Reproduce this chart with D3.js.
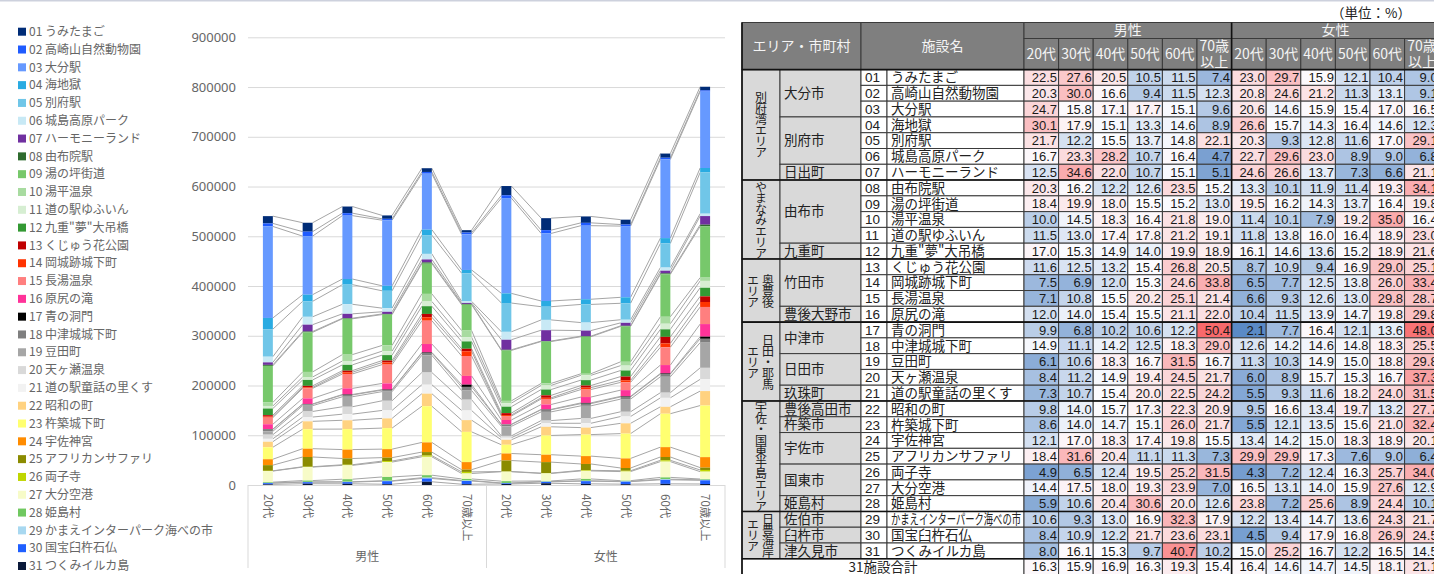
<!DOCTYPE html>
<html lang="ja">
<head>
<meta charset="utf-8">
<script src="https://cdn.jsdelivr.net/npm/d3@7"></script>
<style>
  html, body { margin: 0; padding: 0; background: #fff; }
  svg { display: block; }
</style>
</head>
<body>
<div id="chart"></div>
<script>
// ---- data ----
const genders = ['男性', '女性'];
const ages = ['20代', '30代', '40代', '50代', '60代', '70歳以上'];
const yTicks = [0, 100000, 200000, 300000, 400000, 500000, 600000, 700000, 800000, 900000];

const facilities = [
  'うみたまご', '高崎山自然動物園', '大分駅', '海地獄', '別府駅', '城島高原パーク', 'ハーモニーランド',
  '由布院駅', '湯の坪街道', '湯平温泉', '道の駅ゆふいん', '九重"夢"大吊橋',
  'くじゅう花公園', '岡城跡城下町', '長湯温泉', '原尻の滝',
  '青の洞門', '中津城城下町', '豆田町', '天ヶ瀬温泉', '道の駅童話の里くす',
  '昭和の町', '杵築城下町', '宇佐神宮', 'アフリカンサファリ', '両子寺', '大分空港', '姫島村',
  'かまえインターパーク海べの市', '国宝臼杵石仏', 'つくみイルカ島'
];

const seriesColors = [
  '#002c77', '#1f5bff', '#6699ff', '#29abe2', '#70c6e8', '#c8e9f5', '#7030a0',
  '#2e6b2e', '#77c86b', '#a8dba0', '#d6eed2', '#339933',
  '#c00000', '#ff3300', '#ff7f7f', '#ff3399',
  '#000000', '#7f7f7f', '#a6a6a6', '#d9d9d9', '#f2f2f2',
  '#ffd280', '#ffff70', '#ff8c00', '#8b8b00', '#bfd600', '#f7fbc8', '#70c860',
  '#a8d8f0', '#1f5fff', '#0b1a3a'
];

// visitors per facility: 男性 20代..70歳以上, 女性 20代..70歳以上
const visitors = [
  [14600, 17900, 13300, 6800, 7500, 4800, 18600, 24100, 12900, 9800, 8400, 7300],
  [6100, 9000, 5000, 2800, 3500, 3700, 5600, 6600, 5700, 3100, 3500, 2500],
  [184000, 117700, 127400, 131900, 112500, 71500, 191600, 135800, 147900, 143200, 158100, 153500],
  [22600, 13400, 11300, 10000, 11000, 6700, 19400, 11500, 10400, 12000, 10700, 9000],
  [55300, 31100, 39500, 34900, 37700, 56400, 57900, 26500, 36500, 33100, 48500, 82900],
  [11400, 15800, 19200, 7300, 11200, 3200, 15900, 20700, 16100, 6200, 6300, 4800],
  [5000, 13800, 8800, 4300, 6000, 2000, 20200, 21800, 11200, 6000, 5400, 17300],
  [2000, 1600, 1200, 1300, 2400, 1500, 1300, 1000, 1200, 1100, 1900, 3400],
  [73600, 79600, 72000, 62000, 60800, 52000, 101400, 84200, 74400, 71200, 85300, 103000],
  [7000, 10200, 12800, 11500, 15300, 13300, 4600, 4000, 3200, 7700, 14000, 6600],
  [5200, 5900, 7800, 8000, 9500, 8600, 7100, 8300, 9600, 9800, 11300, 13800],
  [13300, 11900, 11600, 10900, 15500, 14700, 12900, 11700, 10900, 12200, 15100, 17300],
  [2900, 3100, 3300, 3900, 6700, 5100, 3900, 4900, 4200, 7600, 13100, 11300],
  [2100, 1900, 3400, 4300, 6900, 9500, 2000, 2300, 3800, 4100, 7800, 10000],
  [13300, 20200, 29000, 37800, 46900, 40000, 7900, 11200, 15100, 15600, 35800, 34400],
  [9600, 11200, 12300, 12400, 16900, 17600, 8800, 9800, 11800, 12500, 16800, 25300],
  [900, 600, 900, 1000, 1100, 4500, 200, 700, 1500, 1100, 1200, 4300],
  [3700, 2800, 3600, 3100, 4600, 7300, 3800, 4300, 4400, 4400, 5500, 7700],
  [6700, 11700, 20100, 18400, 34700, 18400, 19200, 17500, 25300, 25500, 32000, 50700],
  [8400, 11200, 14900, 19400, 24500, 21700, 3700, 5500, 9700, 9500, 10400, 23100],
  [5800, 8600, 12300, 16000, 18000, 19400, 4100, 7000, 8700, 13700, 18000, 23600],
  [11100, 15800, 17700, 19500, 25200, 23600, 10000, 17400, 14100, 20700, 13900, 29100],
  [24100, 39200, 41200, 42300, 72800, 60800, 17600, 38700, 43200, 49900, 67200, 103700],
  [11900, 16700, 17900, 17100, 19400, 15200, 14100, 14900, 15800, 19200, 19800, 21100],
  [11400, 19600, 12600, 6900, 7000, 4500, 22100, 22100, 12800, 5600, 6700, 4700],
  [500, 700, 1200, 2000, 2500, 3200, 400, 700, 1200, 1600, 2600, 3400],
  [22300, 27100, 27900, 29900, 37000, 10900, 19000, 15100, 16100, 18300, 31700, 14800],
  [1500, 2700, 5100, 7700, 5000, 3200, 3600, 1100, 3800, 1300, 3700, 1500],
  [500, 500, 700, 800, 1600, 900, 600, 700, 700, 700, 1200, 1100],
  [2400, 3100, 3400, 6100, 6600, 6500, 1400, 2800, 5400, 5000, 8100, 7400],
  [1300, 2600, 2400, 1600, 6500, 1600, 2100, 3500, 2300, 1700, 2300, 2000]
];

// table (単位：%)
const shares = [
  [22.5, 27.6, 20.5, 10.5, 11.5, 7.4, 23.0, 29.7, 15.9, 12.1, 10.4, 9.0],
  [20.3, 30.0, 16.6, 9.4, 11.5, 12.3, 20.8, 24.6, 21.2, 11.3, 13.1, 9.1],
  [24.7, 15.8, 17.1, 17.7, 15.1, 9.6, 20.6, 14.6, 15.9, 15.4, 17.0, 16.5],
  [30.1, 17.9, 15.1, 13.3, 14.6, 8.9, 26.6, 15.7, 14.3, 16.4, 14.6, 12.3],
  [21.7, 12.2, 15.5, 13.7, 14.8, 22.1, 20.3, 9.3, 12.8, 11.6, 17.0, 29.1],
  [16.7, 23.3, 28.2, 10.7, 16.4, 4.7, 22.7, 29.6, 23.0, 8.9, 9.0, 6.8],
  [12.5, 34.6, 22.0, 10.7, 15.1, 5.1, 24.6, 26.6, 13.7, 7.3, 6.6, 21.1],
  [20.3, 16.2, 12.2, 12.6, 23.5, 15.2, 13.3, 10.1, 11.9, 11.4, 19.3, 34.1],
  [18.4, 19.9, 18.0, 15.5, 15.2, 13.0, 19.5, 16.2, 14.3, 13.7, 16.4, 19.8],
  [10.0, 14.5, 18.3, 16.4, 21.8, 19.0, 11.4, 10.1, 7.9, 19.2, 35.0, 16.4],
  [11.5, 13.0, 17.4, 17.8, 21.2, 19.1, 11.8, 13.8, 16.0, 16.4, 18.9, 23.0],
  [17.0, 15.3, 14.9, 14.0, 19.9, 18.9, 16.1, 14.6, 13.6, 15.2, 18.9, 21.6],
  [11.6, 12.5, 13.2, 15.4, 26.8, 20.5, 8.7, 10.9, 9.4, 16.9, 29.0, 25.1],
  [7.5, 6.9, 12.0, 15.3, 24.6, 33.8, 6.5, 7.7, 12.5, 13.8, 26.0, 33.4],
  [7.1, 10.8, 15.5, 20.2, 25.1, 21.4, 6.6, 9.3, 12.6, 13.0, 29.8, 28.7],
  [12.0, 14.0, 15.4, 15.5, 21.1, 22.0, 10.4, 11.5, 13.9, 14.7, 19.8, 29.8],
  [9.9, 6.8, 10.2, 10.6, 12.2, 50.4, 2.1, 7.7, 16.4, 12.1, 13.6, 48.0],
  [14.9, 11.1, 14.2, 12.5, 18.3, 29.0, 12.6, 14.2, 14.6, 14.8, 18.3, 25.5],
  [6.1, 10.6, 18.3, 16.7, 31.5, 16.7, 11.3, 10.3, 14.9, 15.0, 18.8, 29.8],
  [8.4, 11.2, 14.9, 19.4, 24.5, 21.7, 6.0, 8.9, 15.7, 15.3, 16.7, 37.3],
  [7.3, 10.7, 15.4, 20.0, 22.5, 24.2, 5.5, 9.3, 11.6, 18.2, 24.0, 31.5],
  [9.8, 14.0, 15.7, 17.3, 22.3, 20.9, 9.5, 16.6, 13.4, 19.7, 13.2, 27.7],
  [8.6, 14.0, 14.7, 15.1, 26.0, 21.7, 5.5, 12.1, 13.5, 15.6, 21.0, 32.4],
  [12.1, 17.0, 18.3, 17.4, 19.8, 15.5, 13.4, 14.2, 15.0, 18.3, 18.9, 20.1],
  [18.4, 31.6, 20.4, 11.1, 11.3, 7.3, 29.9, 29.9, 17.3, 7.6, 9.0, 6.4],
  [4.9, 6.5, 12.4, 19.5, 25.2, 31.5, 4.3, 7.2, 12.4, 16.3, 25.7, 34.0],
  [14.4, 17.5, 18.0, 19.3, 23.9, 7.0, 16.5, 13.1, 14.0, 15.9, 27.6, 12.9],
  [5.9, 10.6, 20.4, 30.6, 20.0, 12.6, 23.8, 7.2, 25.6, 8.9, 24.4, 10.1],
  [10.6, 9.3, 13.0, 16.9, 32.3, 17.9, 12.2, 13.4, 14.7, 13.6, 24.3, 21.7],
  [8.4, 10.9, 12.2, 21.7, 23.6, 23.1, 4.5, 9.4, 17.9, 16.8, 26.9, 24.5],
  [8.0, 16.1, 15.3, 9.7, 40.7, 10.2, 15.0, 25.2, 16.7, 12.2, 16.5, 14.5]
];
const shareTotal = [16.3, 15.9, 16.9, 16.3, 19.3, 15.4, 16.4, 14.6, 14.7, 14.5, 18.1, 21.1];

// エリア (first/last row index), lines are vertical columns from right to left
const areas = [
  { lines: ['別府湾エリア'], from: 0, to: 6 },
  { lines: ['やまなみエリア'], from: 7, to: 11 },
  { lines: ['奥豊後', 'エリア'], from: 12, to: 15 },
  { lines: ['日田・耶馬', 'エリア'], from: 16, to: 20 },
  { lines: ['宇佐・国東半島エリア'], from: 21, to: 27 },
  { lines: ['日豊海岸', 'エリア'], from: 28, to: 30 }
];
const cities = [
  ['大分市', 0, 2], ['別府市', 3, 5], ['日出町', 6, 6], ['由布市', 7, 10], ['九重町', 11, 11],
  ['竹田市', 12, 14], ['豊後大野市', 15, 15], ['中津市', 16, 17], ['日田市', 18, 19], ['玖珠町', 20, 20],
  ['豊後高田市', 21, 21], ['杵築市', 22, 22], ['宇佐市', 23, 24], ['国東市', 25, 26], ['姫島村', 27, 27],
  ['佐伯市', 28, 28], ['臼杵市', 29, 29], ['津久見市', 30, 30]
];

// ---- drawing ----
const W = 1434, H = 574;
const JP = '"Noto Sans CJK JP", "Noto Sans", sans-serif';
const NUM = '"Liberation Sans", Arial, sans-serif';
const categories = genders.flatMap(g => ages.map(a => ({ gender: g, age: a })));
const pad2 = i => String(i + 1).padStart(2, '0');

const svg = d3.select('#chart').append('svg')
  .attr('width', W).attr('height', H)
  .attr('viewBox', [0, 0, W, H])
  .style('font-family', JP);

svg.append('rect').attr('width', W).attr('height', H).attr('fill', '#fff');
svg.append('rect').attr('width', W).attr('height', 1.5).attr('fill', '#cdd1dd');

// legend
const legend = svg.append('g')
  .selectAll('g')
  .data(facilities)
  .join('g')
  .attr('transform', (d, i) => `translate(18,${31.7 + i * 17.81})`);
legend.append('rect')
  .attr('y', -4).attr('width', 8).attr('height', 8)
  .attr('fill', (d, i) => seriesColors[i]);
legend.append('text')
  .attr('x', 11).attr('dy', '0.35em')
  .attr('font-size', 12).attr('fill', '#666')
  .text((d, i) => `${pad2(i)} ${d}`);

// chart
const plotL = 248, plotR = 725, plotB = 485;
const x = d3.scaleBand().domain(d3.range(categories.length)).range([plotL, plotR])
  .paddingInner(0.75).paddingOuter(0.375);
const y = d3.scaleLinear().domain([0, 900000]).range([plotB, 37.3]);
const bw = x.bandwidth();

const grid = svg.append('g')
  .attr('transform', `translate(${plotL},0)`)
  .call(d3.axisRight(y).tickValues(yTicks).tickSize(plotR - plotL).tickFormat(''));
grid.select('.domain').remove();
grid.selectAll('line').attr('stroke', '#d9d9d9');

const yAxis = svg.append('g')
  .attr('transform', `translate(${plotL},0)`)
  .call(d3.axisLeft(y).tickValues(yTicks).tickSize(0).tickPadding(12).tickFormat(d3.format('d')));
yAxis.select('.domain').remove();
yAxis.selectAll('text')
  .attr('font-family', '"Noto Sans", sans-serif')
  .attr('font-size', 13).attr('fill', '#666');

const rows = categories.map((c, j) => {
  const o = {};
  visitors.forEach((v, i) => { o[i] = v[j]; });
  return o;
});
const series = d3.stack().keys(d3.range(facilities.length)).order(d3.stackOrderReverse)(rows);

// series lines
svg.append('g')
  .attr('stroke', '#a6a6a6').attr('stroke-width', 1)
  .selectAll('line')
  .data(series.flatMap(s => d3.range(categories.length - 1).map(j => ({ a: s[j], b: s[j + 1], j }))))
  .join('line')
  .attr('x1', d => x(d.j) + bw).attr('y1', d => y(d.a[1]))
  .attr('x2', d => x(d.j + 1)).attr('y2', d => y(d.b[1]));

svg.append('g')
  .selectAll('g')
  .data(series)
  .join('g')
  .attr('fill', s => seriesColors[s.key])
  .selectAll('rect')
  .data(s => s)
  .join('rect')
  .attr('x', (d, j) => x(j))
  .attr('y', d => y(d[1]))
  .attr('width', bw)
  .attr('height', d => y(d[0]) - y(d[1]));

// category axis
const step = x.step();
svg.append('g')
  .attr('stroke', '#d9d9d9')
  .selectAll('line')
  .data([0, ages.length, categories.length])
  .join('line')
  .attr('x1', k => plotL + k * step).attr('x2', k => plotL + k * step)
  .attr('y1', plotB).attr('y2', 568);

svg.append('g')
  .selectAll('text')
  .data(categories)
  .join('text')
  .attr('transform', (d, j) => `translate(${x(j) + bw / 2},494) rotate(90)`)
  .attr('dy', '0.35em')
  .attr('font-size', 11.5).attr('fill', '#666')
  .text(d => d.age);

svg.append('g')
  .selectAll('text')
  .data(genders)
  .join('text')
  .attr('x', (d, g) => plotL + (g * ages.length + ages.length / 2) * step)
  .attr('y', 557).attr('dy', '0.35em')
  .attr('text-anchor', 'middle')
  .attr('font-size', 12).attr('fill', '#666')
  .text(d => d);

// ---- table ----
const tX = { area: 742, city: 780, no: 861, name: 887, data: 1024 };
const colW = 34.6;
const tTop = 22.5, midH = 38.5, bodyTop = 69.6, rowH = 15.78;
const tRight = tX.data + colW * categories.length;
const ry = r => bodyTop + r * rowH;
const cx = j => tX.data + j * colW;
const border = '#3a3a3a';

const allShares = shares.flat();
const heat = d3.scaleLinear()
  .domain([d3.min(allShares), d3.median(allShares), d3.max(allShares)])
  .range(['#5a8ac6', '#fcfcff', '#f8696b']);

svg.append('text')
  .attr('x', 1411).attr('y', 13).attr('dy', '0.35em')
  .attr('text-anchor', 'end').attr('font-size', 13.5).attr('fill', '#222')
  .text('（単位：%）');

const tbl = svg.append('g').attr('stroke-width', 1);

// header
const head = [
  { x0: tX.area, x1: tX.no, y0: tTop, y1: bodyTop, t: ['エリア・市町村'] },
  { x0: tX.no, x1: tX.data, y0: tTop, y1: bodyTop, t: ['施設名'] },
  ...genders.map((g, k) => ({ x0: cx(k * 6), x1: cx(k * 6 + 6), y0: tTop, y1: midH, t: [g] })),
  ...categories.map((c, j) => ({
    x0: cx(j), x1: cx(j + 1), y0: midH, y1: bodyTop,
    t: c.age === '70歳以上' ? ['70歳', '以上'] : [c.age]
  }))
];
const hc = tbl.append('g').selectAll('g').data(head).join('g');
hc.append('rect')
  .attr('x', d => d.x0).attr('y', d => d.y0)
  .attr('width', d => d.x1 - d.x0).attr('height', d => d.y1 - d.y0)
  .attr('fill', '#7f7f7f').attr('stroke', border);
hc.append('text')
  .attr('x', d => (d.x0 + d.x1) / 2)
  .attr('y', d => (d.y0 + d.y1) / 2)
  .attr('text-anchor', 'middle').attr('font-size', 14).attr('fill', '#f4f4f4')
  .selectAll('tspan')
  .data(d => d.t.map((s, k) => ({ s, k, n: d.t.length })))
  .join('tspan')
  .attr('x', function () { return this.parentNode.getAttribute('x'); })
  .attr('dy', d => d.k === 0 ? `${0.35 - (d.n - 1) * 0.55}em` : '1.1em')
  .text(d => d.s);

// area cells (vertical labels, one text per column)
const ac = tbl.append('g').selectAll('g').data(areas).join('g');
ac.append('rect')
  .attr('x', tX.area).attr('y', d => ry(d.from))
  .attr('width', tX.city - tX.area).attr('height', d => ry(d.to + 1) - ry(d.from))
  .attr('fill', '#d9d9d9').attr('stroke', border);
ac.each(function (d) {
  const cy = (ry(d.from) + ry(d.to + 1)) / 2;
  const xs = d.lines.length === 1 ? [761] : [768, 753];
  d3.select(this).selectAll('text')
    .data(d.lines.map((line, li) => ({ line, x: xs[li] })))
    .join('text')
    .attr('x', c => c.x).attr('y', cy)
    .attr('writing-mode', 'vertical-rl')
    .style('writing-mode', 'vertical-rl')
    .attr('text-anchor', 'middle')
    .attr('font-size', 12).attr('letter-spacing', -1).attr('fill', '#222')
    .text(c => c.line);
});

// city cells
const cc = tbl.append('g').selectAll('g').data(cities).join('g');
cc.append('rect')
  .attr('x', tX.city).attr('y', d => ry(d[1]))
  .attr('width', tX.no - tX.city).attr('height', d => ry(d[2] + 1) - ry(d[1]))
  .attr('fill', '#d9d9d9').attr('stroke', border);
cc.append('text')
  .attr('x', tX.city + 4)
  .attr('y', d => (ry(d[1]) + ry(d[2] + 1)) / 2).attr('dy', '0.35em')
  .attr('font-size', 13.5).attr('fill', '#222')
  .text(d => d[0]);

// facility rows
const fr = tbl.append('g').selectAll('g').data(facilities).join('g')
  .attr('transform', (d, i) => `translate(0,${ry(i)})`);
fr.append('rect')
  .attr('x', tX.no).attr('width', tX.name - tX.no).attr('height', rowH)
  .attr('fill', '#fff').attr('stroke', border);
fr.append('rect')
  .attr('x', tX.name).attr('width', tX.data - tX.name).attr('height', rowH)
  .attr('fill', '#fff').attr('stroke', border);
fr.append('text')
  .attr('x', tX.no + 4).attr('y', rowH / 2).attr('dy', '0.36em')
  .attr('font-family', NUM).attr('font-size', 13.5).attr('fill', '#222')
  .text((d, i) => pad2(i));
fr.append('text')
  .attr('x', tX.name + 4).attr('y', rowH / 2).attr('dy', '0.36em')
  .attr('font-size', 13.5).attr('fill', '#222')
  .text(d => d)
  .each(function () {
    const room = tX.data - tX.name - 7;
    if (this.getComputedTextLength() > room) {
      d3.select(this).attr('textLength', room).attr('lengthAdjust', 'spacingAndGlyphs');
    }
  });

// total row
const totalY = ry(facilities.length);
tbl.append('rect')
  .attr('x', tX.area).attr('y', totalY)
  .attr('width', tX.data - tX.area).attr('height', rowH)
  .attr('fill', '#fff').attr('stroke', border);
tbl.append('text')
  .attr('x', (tX.area + tX.data) / 2).attr('y', totalY + rowH / 2).attr('dy', '0.36em')
  .attr('text-anchor', 'middle').attr('font-size', 13.5).attr('fill', '#222')
  .text(`${facilities.length}施設合計`);

// heat cells
const cells = shares.concat([shareTotal]).flatMap((row, r) => row.map((v, j) => ({ v, r, j })));
const hcell = tbl.append('g').selectAll('g').data(cells).join('g')
  .attr('transform', d => `translate(${cx(d.j)},${ry(d.r)})`);
hcell.append('rect')
  .attr('width', colW).attr('height', rowH)
  .attr('fill', d => heat(d.v)).attr('stroke', border);
hcell.append('text')
  .attr('x', colW - 1.5).attr('y', rowH / 2).attr('dy', '0.36em')
  .attr('text-anchor', 'end')
  .attr('font-family', NUM).attr('font-size', 13).attr('fill', '#1a1a1a')
  .text(d => d.v.toFixed(1));

// heavier rules: area groups and gender split
const groupEdges = areas.map(a => a.to + 1).concat([0]);
tbl.append('g')
  .attr('stroke', '#111').attr('stroke-width', 1.6)
  .selectAll('line')
  .data(groupEdges)
  .join('line')
  .attr('x1', tX.area).attr('x2', tRight)
  .attr('y1', r => ry(r)).attr('y2', r => ry(r));
tbl.append('line')
  .attr('stroke', '#111').attr('stroke-width', 1.6)
  .attr('x1', cx(ages.length)).attr('x2', cx(ages.length))
  .attr('y1', tTop).attr('y2', H);
tbl.append('line')
  .attr('stroke', '#111').attr('stroke-width', 1.6)
  .attr('x1', tX.area).attr('x2', tX.area)
  .attr('y1', tTop).attr('y2', H);
</script>
</body>
</html>
